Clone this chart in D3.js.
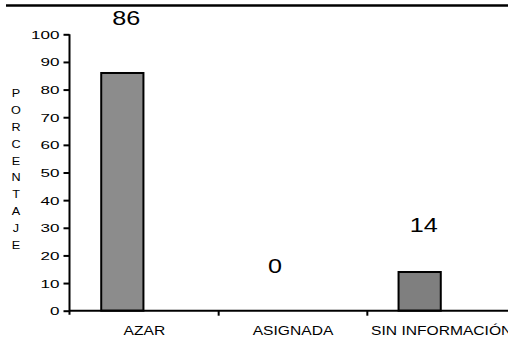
<!DOCTYPE html>
<html>
<head>
<meta charset="utf-8">
<script src="https://cdn.jsdelivr.net/npm/d3@7"></script>
<style>
  html, body { margin: 0; padding: 0; background: #fff; }
  svg { display: block; font-family: "Liberation Sans", Arial, sans-serif; }
</style>
</head>
<body>
<svg id="chart" width="508" height="339"></svg>
<script>
// ---- data ----
const categories = ["AZAR", "ASIGNADA", "SIN INFORMACIÓN"];
const values = [86, 0, 14];
const yTicks = [0, 10, 20, 30, 40, 50, 60, 70, 80, 90, 100];
const axisTitle = "PORCENTAJE";
// ---- styles ----
const barColors = ["#8c8c8c", "#8c8c8c", "#7f7f7f"];

const svg = d3.select("#chart");

const y = d3.scaleLinear().domain([0, 100]).range([310.7, 34.3]);
const x = d3.scaleBand().domain(categories).range([70, 516]).padding(0);
const bw = x.bandwidth();
const barW = bw * 0.284;
const barOff = bw * 0.21;
// data label placement scale
const labelY = d3.scaleLinear().domain([0, 100])
  .range([y(0) * 1.04 - 50.5, y(100) * 1.04 - 50.5]);

// top rule
svg.append("line")
  .attr("x1", 6).attr("x2", 508).attr("y1", 5.5).attr("y2", 5.5)
  .attr("stroke", "#000").attr("stroke-width", 2.5);

// bars
svg.selectAll("rect.bar").data(values).join("rect")
  .attr("class", "bar")
  .attr("x", (d, i) => x(categories[i]) + barOff)
  .attr("y", d => y(d))
  .attr("width", barW)
  .attr("height", d => y(0) - y(d))
  .attr("fill", (d, i) => barColors[i])
  .attr("stroke", d => d > 0 ? "#000" : "none")
  .attr("stroke-width", 2);

// y axis
const yAxis = svg.append("g")
  .attr("transform", "translate(69.5,0)")
  .call(d3.axisLeft(y).tickValues(yTicks).tickSize(6).tickSizeOuter(0).tickFormat(d3.format("d")));
yAxis.select(".domain").attr("stroke", "#000").attr("stroke-width", 2)
  .attr("d", `M0,${y(100)}V${y(0) + 4}`);
yAxis.selectAll(".tick line").attr("stroke", "#000").attr("stroke-width", 2);
yAxis.selectAll(".tick text")
  .attr("x", null).attr("dy", null)
  .attr("text-anchor", "end")
  .attr("fill", "#000")
  .style("font-size", "11px")
  .attr("transform", "translate(-10,4) scale(1.55,1)");

// x axis
const xAxis = svg.append("g").attr("transform", `translate(0,${y(0)})`);
xAxis.append("line")
  .attr("x1", 69).attr("x2", 508).attr("y1", 0).attr("y2", 0)
  .attr("stroke", "#000").attr("stroke-width", 2);
const bounds = categories.map(c => x(c)).concat([x.range()[1]]);
xAxis.selectAll("line.xt").data(bounds.slice(1)).join("line")
  .attr("class", "xt")
  .attr("x1", d => d).attr("x2", d => d).attr("y1", 0).attr("y2", 5)
  .attr("stroke", "#000").attr("stroke-width", 2);
xAxis.selectAll("text.xl").data(categories).join("text")
  .attr("class", "xl")
  .attr("text-anchor", "middle")
  .style("font-size", "12.5px")
  .attr("fill", "#000")
  .attr("transform", d => `translate(${x(d) + bw / 2},24.5) scale(1.25,1)`)
  .text(d => d);

// data labels
svg.selectAll("text.dl").data(values).join("text")
  .attr("class", "dl")
  .attr("text-anchor", "middle")
  .style("font-size", "21px")
  .attr("fill", "#000")
  .attr("transform", (d, i) => `translate(${x(categories[i]) + barOff + barW / 2 + 4},${labelY(d)}) scale(1.2,1)`)
  .text(d => d);

// vertical stacked axis title
const letters = axisTitle.split("");
const ly = d3.scalePoint().domain(d3.range(letters.length)).range([97, 249]);
svg.selectAll("text.at").data(letters).join("text")
  .attr("class", "at")
  .attr("text-anchor", "middle")
  .style("font-size", "11px")
  .attr("fill", "#000")
  .attr("transform", (d, i) => `translate(16,${ly(i)}) scale(1.15,1)`)
  .text(d => d);
</script>
</body>
</html>
